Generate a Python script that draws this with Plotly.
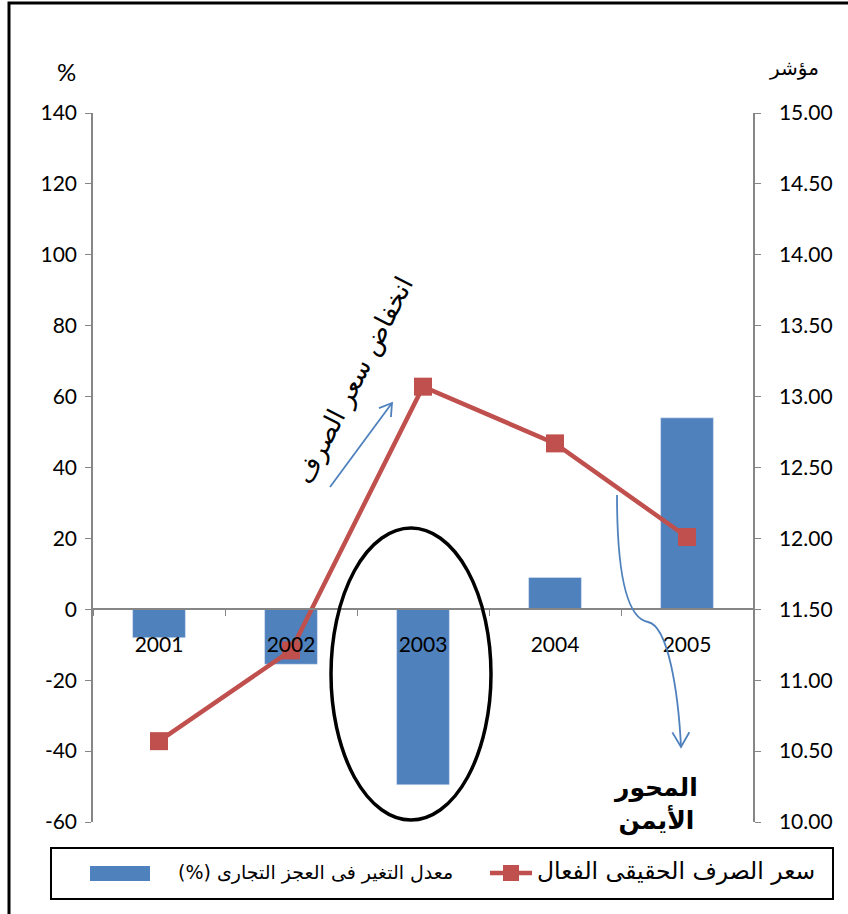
import plotly.graph_objects as go
import math

years = ["2001", "2002", "2003", "2004", "2005"]
trade_deficit_change = [-8, -15.5, -49.5, 9, 54]          # left axis, %
real_exchange_rate = [10.57, 11.21, 13.07, 12.67, 12.01]  # right axis, index

left_ticks = [-60, -40, -20, 0, 20, 40, 60, 80, 100, 120, 140]
right_ticks = [10.0, 10.5, 11.0, 11.5, 12.0, 12.5, 13.0, 13.5, 14.0, 14.5, 15.0]

bar_name = "(%) معدل التغير فى العجز التجارى"
line_name = "سعر الصرف الحقيقى الفعال"

W, H = 848, 914
L, R, T, B = 93, 753, 113, 822  # plot area in pixels

def px(x):
    return (x - L) / (R - L)

def py(y):
    return (B - y) / (B - T)

BLUE = "#4F81BD"
RED = "#C0504D"
AX = "#868686"
NUMFONT = "Lato"
ARFONT = "DejaVu Sans"

fig = go.Figure()
fig.add_trace(go.Bar(x=years, y=trade_deficit_change, marker_color=BLUE,
                     width=0.4, yaxis="y", showlegend=False))
fig.add_trace(go.Scatter(x=years, y=real_exchange_rate, mode="lines+markers",
                         line=dict(color=RED, width=4.5),
                         marker=dict(symbol="square", size=18, color=RED),
                         yaxis="y2", showlegend=False))

fig.update_layout(
    width=W, height=H,
    margin=dict(l=L, r=W - R, t=T, b=H - B),
    plot_bgcolor="white", paper_bgcolor="white",
    bargap=0.6,
    xaxis=dict(type="category", anchor="free", position=60 / 200,
               showline=True, linecolor=AX, linewidth=1.5,
               ticks="outside", tickson="boundaries", ticklen=6, tickcolor=AX,
               tickfont=dict(family=NUMFONT, size=21, color="black"),
               ticklabelstandoff=17, showgrid=False, zeroline=False),
    yaxis=dict(range=[-60, 140], tickvals=left_ticks, ticktext=[str(v) for v in left_ticks],
               showline=True, linecolor=AX, linewidth=1.5, ticks="outside", ticklen=6,
               tickcolor=AX, tickfont=dict(family=NUMFONT, size=21, color="black"),
               showgrid=False, zeroline=False, ticklabelstandoff=4),
    yaxis2=dict(range=[10, 15], tickvals=right_ticks,
                ticktext=["%.2f" % v for v in right_ticks], overlaying="y", side="right",
                showline=True, linecolor=AX, linewidth=1.5, ticks="outside", ticklen=6,
                tickcolor=AX, tickfont=dict(family=NUMFONT, size=21, color="black"),
                showgrid=False, zeroline=False, ticklabelstandoff=14),
)

shapes = []
# outer chart frame
shapes.append(dict(type="rect", xref="paper", yref="paper",
                   x0=px(9), x1=px(860), y0=py(3), y1=py(930),
                   line=dict(color="black", width=3), layer="below"))
# ellipse around 2003
shapes.append(dict(type="circle", xref="paper", yref="paper",
                   x0=px(331), x1=px(491), y0=py(528), y1=py(820),
                   line=dict(color="black", width=3.5)))

def arrow_head(x0, y0, x1, y1, length=14, ang=32):
    dx, dy = x1 - x0, y1 - y0
    n = math.hypot(dx, dy)
    ux, uy = dx / n, dy / n
    pts = []
    for s in (1, -1):
        a = math.radians(ang) * s
        bx = -(ux * math.cos(a) - uy * math.sin(a))
        by = -(ux * math.sin(a) + uy * math.cos(a))
        pts.append((x1 + bx * length, y1 + by * length))
    return pts

# straight arrow
ax0, ay0, ax1, ay1 = 330, 487, 392, 403
h1, h2 = arrow_head(ax0, ay0, ax1, ay1)
shapes.append(dict(type="path", xref="paper", yref="paper",
                   path=f"M {px(ax0)},{py(ay0)} L {px(ax1)},{py(ay1)}",
                   line=dict(color=BLUE, width=1.8)))
shapes.append(dict(type="path", xref="paper", yref="paper",
                   path=f"M {px(h1[0])},{py(h1[1])} L {px(ax1)},{py(ay1)} L {px(h2[0])},{py(h2[1])}",
                   line=dict(color=BLUE, width=1.8)))

# curved arrow
c = [(617, 495), (617, 565), (625, 618), (648, 622), (668, 626), (678, 690), (681, 746)]
p = (f"M {px(c[0][0])},{py(c[0][1])} "
     f"C {px(c[1][0])},{py(c[1][1])} {px(c[2][0])},{py(c[2][1])} {px(c[3][0])},{py(c[3][1])} "
     f"C {px(c[4][0])},{py(c[4][1])} {px(c[5][0])},{py(c[5][1])} {px(c[6][0])},{py(c[6][1])}")
shapes.append(dict(type="path", xref="paper", yref="paper", path=p,
                   line=dict(color=BLUE, width=1.8)))
h1, h2 = arrow_head(680.5, 700, 681, 747, length=17, ang=30)
shapes.append(dict(type="path", xref="paper", yref="paper",
                   path=f"M {px(h1[0])},{py(h1[1])} L {px(681)},{py(747)} L {px(h2[0])},{py(h2[1])}",
                   line=dict(color=BLUE, width=1.8)))

# legend box
shapes.append(dict(type="rect", xref="paper", yref="paper",
                   x0=px(51), x1=px(833), y0=py(848), y1=py(899),
                   line=dict(color="black", width=2)))
shapes.append(dict(type="rect", xref="paper", yref="paper",
                   x0=px(90), x1=px(150), y0=py(866), y1=py(881),
                   line=dict(width=0), fillcolor=BLUE))
shapes.append(dict(type="line", xref="paper", yref="paper",
                   x0=px(490), x1=px(532), y0=py(873), y1=py(873),
                   line=dict(color=RED, width=4.5)))
shapes.append(dict(type="rect", xref="paper", yref="paper",
                   x0=px(503), x1=px(519), y0=py(865), y1=py(881),
                   line=dict(width=0), fillcolor=RED))

fig.update_layout(shapes=shapes)

ann = []
ann.append(dict(x=px(55), y=py(55), xref="paper", yref="paper", text="%",
                showarrow=False, font=dict(family=NUMFONT, size=24, color="black")))
ann.append(dict(x=px(821), y=py(54), xref="paper", yref="paper", text="مؤشر",
                showarrow=False, font=dict(family=ARFONT, size=20, color="black")))
ann.append(dict(x=px(354), y=py(380), xref="paper", yref="paper", text="انخفاض سعر الصرف",
                textangle=-63, showarrow=False,
                font=dict(family=ARFONT, size=26, color="black")))
ann.append(dict(x=px(700), y=py(838), xref="paper", yref="paper",
                text="<b>المحور</b><br><b>الأيمن</b>", showarrow=False,
                font=dict(family=ARFONT, size=25, color="black")))
ann.append(dict(x=px(455), y=py(886), xref="paper", yref="paper", text=bar_name,
                xanchor="right", showarrow=False,
                font=dict(family=ARFONT, size=19, color="black")))
ann.append(dict(x=px(535), y=py(887), xref="paper", yref="paper", text=line_name,
                xanchor="left", showarrow=False,
                font=dict(family=ARFONT, size=23.5, color="black")))
fig.update_layout(annotations=ann)

fig.write_html("out.html")
